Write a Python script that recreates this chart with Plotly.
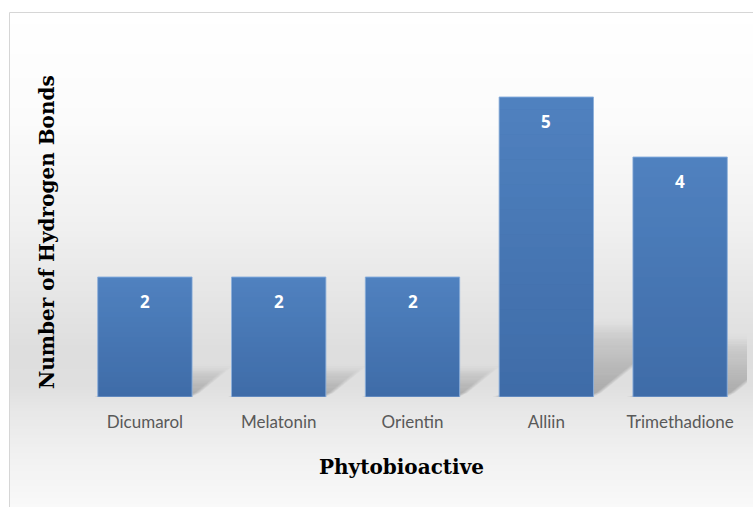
import plotly.graph_objects as go

# ---- data -------------------------------------------------------------
compounds = ["Dicumarol", "Melatonin", "Orientin", "Alliin", "Trimethadione"]
hbonds = [2, 2, 2, 5, 4]

x_title = "Phytobioactive"
y_title = "Number of Hydrogen Bonds"

# ---- geometry / style -------------------------------------------------
W, H = 753, 507
M_L, M_R, M_T, M_B = 78, 6, 37, 110
PLOT_W = W - M_L - M_R
PLOT_H = H - M_T - M_B
Y_MAX = 6
BAR_W = 0.705

BAR_BOTTOM = (63, 108, 168)
BAR_TINT = (120, 181, 248)
TITLE_FONT = "DejaVu Serif"
TICK_FONT = "Lato"


def px_x(p):
    """pixel column -> paper x"""
    return (p - M_L) / PLOT_W


def px_y(p):
    """pixel row -> paper y"""
    return (H - M_B - p) / PLOT_H


shapes = []

# backdrop: soft vertical grey gradient inside the chart frame
stops = [(12, 255), (120, 251), (220, 241), (300, 229), (350, 222),
         (385, 223), (410, 231), (450, 240), (507, 249)]


def grey_at(row):
    for (r0, g0), (r1, g1) in zip(stops[:-1], stops[1:]):
        if r0 <= row <= r1:
            f = (row - r0) / (r1 - r0)
            return g0 + (g1 - g0) * f
    return stops[-1][1]


step = 3
row = 12
while row < H:
    g = round(grey_at(row + step / 2))
    shapes.append(dict(type="rect", xref="paper", yref="paper", layer="below",
                       x0=px_x(9), x1=px_x(W + 2), y0=px_y(row + step + 0.5),
                       y1=px_y(row), fillcolor=f"rgb({g},{g},{g})",
                       line=dict(width=0)))
    row += step

# frame lines
shapes.append(dict(type="line", xref="paper", yref="paper", layer="below",
                   x0=px_x(9.5), x1=px_x(9.5), y0=px_y(H + 2), y1=px_y(12.5),
                   line=dict(color="#d6d6d6", width=1)))
shapes.append(dict(type="line", xref="paper", yref="paper", layer="below",
                   x0=px_x(9.5), x1=px_x(W + 2), y0=px_y(12.5), y1=px_y(12.5),
                   line=dict(color="#d6d6d6", width=1)))

# cast shadows: each bar projected back and to the right, fading with
# height; several slightly offset copies soften the edges
SKEW_X = 0.14    # category units per unit of bar height
SKEW_Y = 0.25    # y units per unit of bar height
N_SH = 12
BLUR = [(-0.05, -0.06), (-0.025, -0.03), (0.0, 0.0), (0.025, 0.03), (0.05, 0.06)]
for i, v in enumerate(hbonds):
    x0, x1 = i - BAR_W / 2, i + BAR_W / 2
    for s in range(N_SH):
        ta, tb = s / N_SH, (s + 1) / N_SH
        alpha = 0.27 * (1 - (s + 0.5) / N_SH) ** 0.8 / len(BLUR)
        for dx, dy in BLUR:
            ya = SKEW_Y * v * ta + dy
            yb = SKEW_Y * v * tb + dy
            xa = SKEW_X * v * ta + dx
            xb = SKEW_X * v * tb + dx
            path = (f"M {x0 + xa},{max(ya, 0)} L {x1 + xa},{max(ya, 0)} "
                    f"L {x1 + xb},{max(yb, 0)} L {x0 + xb},{max(yb, 0)} Z")
            shapes.append(dict(type="path", xref="x", yref="y", layer="below",
                               path=path, fillcolor=f"rgba(0,0,0,{alpha:.4f})",
                               line=dict(width=0)))

# bar shading: lighter towards the top of every bar
N_GR = 24
for i, v in enumerate(hbonds):
    x0, x1 = i - BAR_W / 2 + 0.004, i + BAR_W / 2 - 0.004
    for s in range(N_GR):
        a = 0.3 * (s + 0.5) / N_GR
        shapes.append(dict(type="rect", xref="x", yref="y", layer="above",
                           x0=x0, x1=x1, y0=v * s / N_GR, y1=v * (s + 1) / N_GR,
                           fillcolor=f"rgba({BAR_TINT[0]},{BAR_TINT[1]},{BAR_TINT[2]},{a:.3f})",
                           line=dict(width=0)))

fig = go.Figure(go.Bar(
    x=compounds,
    y=hbonds,
    width=BAR_W,
    marker=dict(color=f"rgb{BAR_BOTTOM}",
                line=dict(color="rgba(140,175,220,0.9)", width=1)),
    hoverinfo="x+y",
))

annotations = []
# value labels near the top of each bar
for name, v in zip(compounds, hbonds):
    annotations.append(dict(x=name, y=v, xref="x", yref="y", text=f"<b>{v}</b>",
                            showarrow=False, yanchor="top", yshift=-11,
                            font=dict(family="Open Sans", size=17, color="white")))

# axis titles
annotations.append(dict(x=px_x(401), y=px_y(467), xref="paper", yref="paper",
                        text=f"<b>{x_title}</b>", showarrow=False,
                        xanchor="center", yanchor="middle",
                        font=dict(family=TITLE_FONT, size=20, color="black")))
annotations.append(dict(x=px_x(47), y=px_y(232), xref="paper", yref="paper",
                        text=f"<b>{y_title}</b>", showarrow=False, textangle=-90,
                        xanchor="center", yanchor="middle",
                        font=dict(family=TITLE_FONT, size=20, color="black")))

fig.update_layout(
    width=W, height=H,
    margin=dict(l=M_L, r=M_R, t=M_T, b=M_B, pad=0),
    paper_bgcolor="white",
    plot_bgcolor="rgba(0,0,0,0)",
    showlegend=False,
    shapes=shapes,
    annotations=annotations,
    xaxis=dict(type="category", range=[-0.5, len(compounds) - 0.5],
               showgrid=False, zeroline=False, showline=False, ticks="",
               ticklabelstandoff=13,
               tickfont=dict(family=TICK_FONT, size=17, color="#595959")),
    yaxis=dict(range=[0, Y_MAX], visible=False, showgrid=False, zeroline=False),
)

fig.write_html("out.html")
